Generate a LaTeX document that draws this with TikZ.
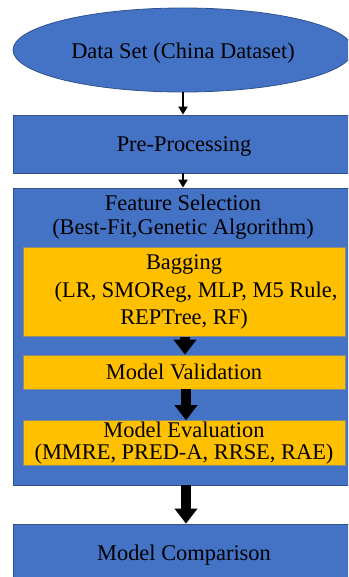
\documentclass[tikz,border=0pt]{standalone}
\usepackage{fontspec}
\setmainfont{Liberation Serif}
\usetikzlibrary{arrows.meta,shapes.geometric}
\definecolor{boxblue}{HTML}{4472C4}
\definecolor{edgeblue}{HTML}{2F528F}
\definecolor{boxgold}{HTML}{FFC000}
\definecolor{edgegold}{HTML}{8C8C7A}
\begin{document}
\begin{tikzpicture}[x=1bp,y=-1bp,
  txt/.style={font=\fontsize{22.5}{26}\selectfont, align=center, inner sep=0pt, text=black},
  bluebox/.style={txt, rectangle, fill=boxblue, draw=edgeblue, line width=0.8bp, minimum width=342bp},
  goldbox/.style={txt, rectangle, fill=boxgold, draw=edgegold, line width=0.6bp, minimum width=322bp},
  lowtext/.style={text height=19.5bp, text depth=5bp},
  thinarrow/.style={line width=2.5bp, -{Triangle[width=9bp,length=8bp]}},
  fatarrow/.style={line width=10bp, -{Triangle[width=22bp,length=15bp]}}]
\useasboundingbox (0,0) rectangle (348,577);
\clip (0,0) rectangle (348,577);
\node[txt, ellipse, fill=boxblue, draw=edgeblue, line width=0.8bp, minimum width=340bp, minimum height=84bp, text height=23bp, text depth=5bp] (data) at (183,50) {Data Set (China Dataset)};
\node[bluebox, lowtext, minimum height=58bp] (pre) at (184,144) {Pre-Processing};
\node[bluebox, minimum height=297bp] (fs) at (184,336.5) {};
\node[txt, font=\fontsize{22.5}{24}\selectfont] (fstext) at (183,217) {Feature Selection\\(Best-Fit,Genetic Algorithm)};
\node[goldbox, font=\fontsize{22.5}{27.5}\selectfont, minimum height=89bp] (bag) at (184,292) {Bagging\\\hspace*{24bp}(LR, SMOReg, MLP, M5 Rule,\\REPTree, RF)};
\node[goldbox, lowtext, minimum height=34bp] (val) at (184,372) {Model Validation};
\node[goldbox, font=\fontsize{22.5}{22.5}\selectfont, minimum height=45bp] (eval) at (184,443) {Model Evaluation\\(MMRE, PRED-A, RRSE, RAE)};
\node[bluebox, lowtext, minimum height=58bp] (cmp) at (184,553) {Model Comparison};
\draw[thinarrow] (data.south) -- (data.south |- pre.north);
\draw[thinarrow] ([xshift=-1bp]pre.south) -- ([xshift=-1bp]pre.south |- fs.north);
\draw[fatarrow] ([xshift=1bp]bag.south) -- ([xshift=1bp]bag.south |- val.north);
\draw[fatarrow] ([xshift=2bp]val.south) -- ([xshift=2bp]val.south |- eval.north);
\draw[fatarrow] ([xshift=2bp]fs.south) -- ([xshift=2bp]fs.south |- cmp.north);
\end{tikzpicture}
\end{document}
